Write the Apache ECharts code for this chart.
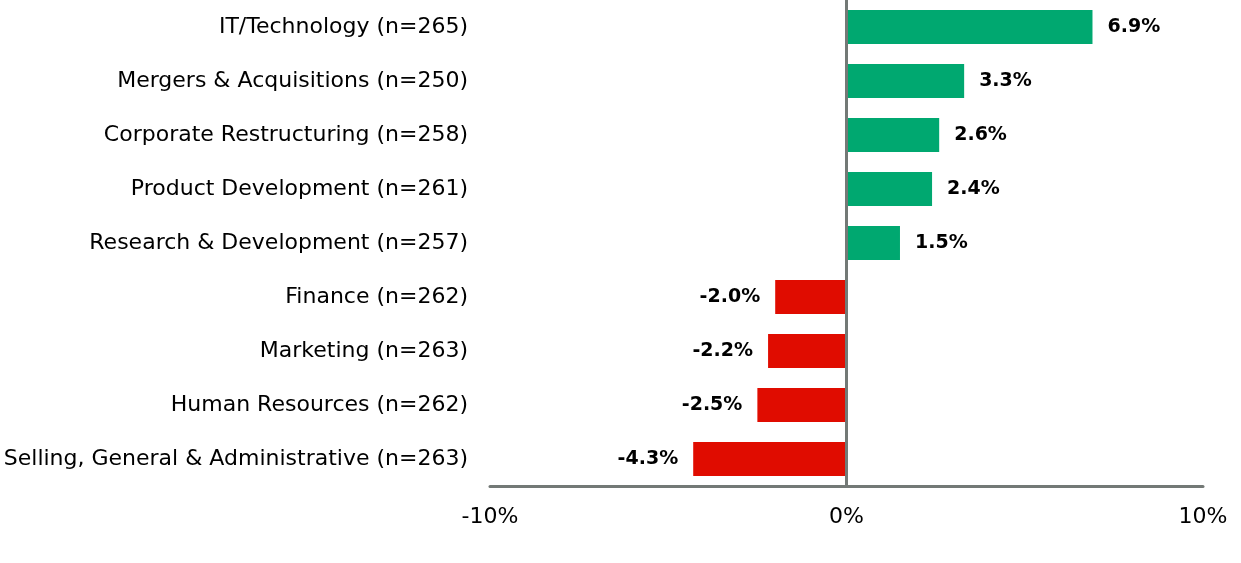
<!DOCTYPE html>
<html>
<head>
<meta charset="utf-8">
<script src="https://cdn.jsdelivr.net/npm/echarts@6/dist/echarts.min.js"></script>
<style>
html,body{margin:0;padding:0;background:#fff;}
#chart{width:1241px;height:563px;}
</style>
</head>
<body>
<div id="chart"></div>
<script>
const categories = [
  "IT/Technology (n=265)",
  "Mergers & Acquisitions (n=250)",
  "Corporate Restructuring (n=258)",
  "Product Development (n=261)",
  "Research & Development (n=257)",
  "Finance (n=262)",
  "Marketing (n=263)",
  "Human Resources (n=262)",
  "Selling, General & Administrative (n=263)"
];
const values = [6.9, 3.3, 2.6, 2.4, 1.5, -2.0, -2.2, -2.5, -4.3];
const xTicks = [-10, 0, 10];

const POS = '#00A870', NEG = '#E00C00', AXIS = '#737976';
const FONT = '"DejaVu Sans", "Liberation Sans", Arial, sans-serif';

const chart = echarts.init(document.getElementById('chart'), null, {renderer: 'canvas'});
chart.setOption({
  animation: false,
  backgroundColor: '#fff',
  grid: {left: 490, right: 38, top: 0, bottom: 77, containLabel: false},
  xAxis: {
    type: 'value',
    min: xTicks[0], max: xTicks[xTicks.length - 1], interval: 10,
    splitLine: {show: false},
    axisTick: {show: false},
    axisLine: {show: true, onZero: false, lineStyle: {color: AXIS, width: 3}},
    axisLabel: {formatter: '{value}%', fontSize: 22, color: '#000', fontFamily: FONT, margin: 20}
  },
  yAxis: {
    type: 'category',
    inverse: true,
    data: categories,
    axisLine: {show: false},
    axisTick: {show: false},
    axisLabel: {fontSize: 22, color: '#000', fontFamily: FONT, margin: 22}
  },
  series: [{
    type: 'bar',
    barWidth: 34,
    data: values.map(v => ({
      value: v,
      itemStyle: {color: v >= 0 ? POS : NEG},
      label: {position: v >= 0 ? 'right' : 'left'}
    })),
    label: {
      show: true,
      distance: 15,
      fontSize: 19,
      fontWeight: 'bold',
      color: '#000',
      fontFamily: FONT,
      formatter: p => p.value.toFixed(1) + '%'
    },
    markLine: {
      silent: true,
      symbol: 'none',
      label: {show: false},
      lineStyle: {color: AXIS, width: 3, type: 'solid'},
      data: [{xAxis: 0}]
    }
  }]
});
</script>
</body>
</html>
